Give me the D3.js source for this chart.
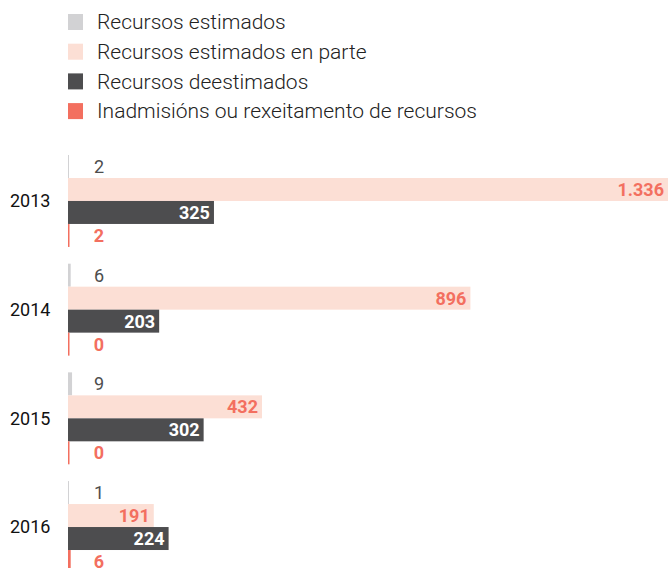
<!DOCTYPE html>
<html>
<head>
<meta charset="utf-8">
<script src="https://cdn.jsdelivr.net/npm/d3@7"></script>
<style>
  body { margin: 0; background: #fff; }
  svg { font-family: Roboto, sans-serif; display: block; }
</style>
</head>
<body>
<div id="chart"></div>
<script>
const years = ["2013", "2014", "2015", "2016"];
const seriesNames = [
  "Recursos estimados",
  "Recursos estimados en parte",
  "Recursos deestimados",
  "Inadmisións ou rexeitamento de recursos"
];
const estimados = [2, 6, 9, 1];
const enParte = [1336, 896, 432, 191];
const deestimados = [325, 203, 302, 224];
const inadmisions = [2, 0, 0, 6];

const colors = ["#d2d2d4", "#fcdfd5", "#4d4d4f", "#f36f5f"];
const labelColors = ["#4d4d4d", "#f36f5f", "#ffffff", "#f36f5f"];
const labelWeights = ["normal", "bold", "bold", "bold"];

const width = 670, height = 568;
const fmt = v => v.toLocaleString("de-DE");

const svg = d3.select("#chart")
  .append("svg")
  .attr("width", width)
  .attr("height", height);

// legend
const legend = svg.append("g")
  .selectAll("g")
  .data(seriesNames)
  .enter()
  .append("g")
  .attr("transform", (d, i) => `translate(68,${14 + i * 29.7})`);

legend.append("rect")
  .attr("width", 15)
  .attr("height", 16)
  .attr("fill", (d, i) => colors[i]);

legend.append("text")
  .attr("x", 29)
  .attr("y", 8)
  .attr("dy", "0.35em")
  .attr("font-size", 21)
  .attr("font-weight", 300)
  .attr("fill", "#222")
  .text(d => d);

// scales
const x = d3.scaleLinear()
  .domain([0, d3.max(enParte)])
  .range([68, 668]);

const y = d3.scaleBand()
  .domain(years)
  .range([155, 573])
  .paddingInner(0.154)
  .paddingOuter(0);

const ySeries = d3.scaleBand()
  .domain(d3.range(4))
  .range([0, y.bandwidth()]);

const rows = years.map((year, i) => ({
  year,
  values: [estimados[i], enParte[i], deestimados[i], inadmisions[i]]
}));

const groups = svg.append("g")
  .selectAll("g")
  .data(rows)
  .enter()
  .append("g")
  .attr("transform", d => `translate(0,${y(d.year)})`);

groups.append("text")
  .attr("x", 10)
  .attr("y", y.bandwidth() / 2)
  .attr("dy", "0.35em")
  .attr("font-size", 18)
  .attr("fill", "#111")
  .text(d => d.year);

const bars = groups.selectAll("g.bar")
  .data(d => d.values.map((v, k) => ({ v, k })))
  .enter()
  .append("g")
  .attr("class", "bar");

bars.append("rect")
  .attr("x", x(0))
  .attr("y", d => ySeries(d.k))
  .attr("width", d => Math.max(x(d.v) - x(0), d.k === 3 ? 1.5 : 1))
  .attr("height", ySeries.bandwidth())
  .attr("fill", d => colors[d.k]);

bars.append("text")
  .attr("x", d => Math.max(x(d.v), x(0) + 40) - 4)
  .attr("y", d => ySeries(d.k) + ySeries.bandwidth() / 2)
  .attr("dy", "0.36em")
  .attr("text-anchor", "end")
  .attr("font-size", 18)
  .attr("font-weight", d => labelWeights[d.k])
  .attr("fill", d => labelColors[d.k])
  .text(d => fmt(d.v));
</script>
</body>
</html>
